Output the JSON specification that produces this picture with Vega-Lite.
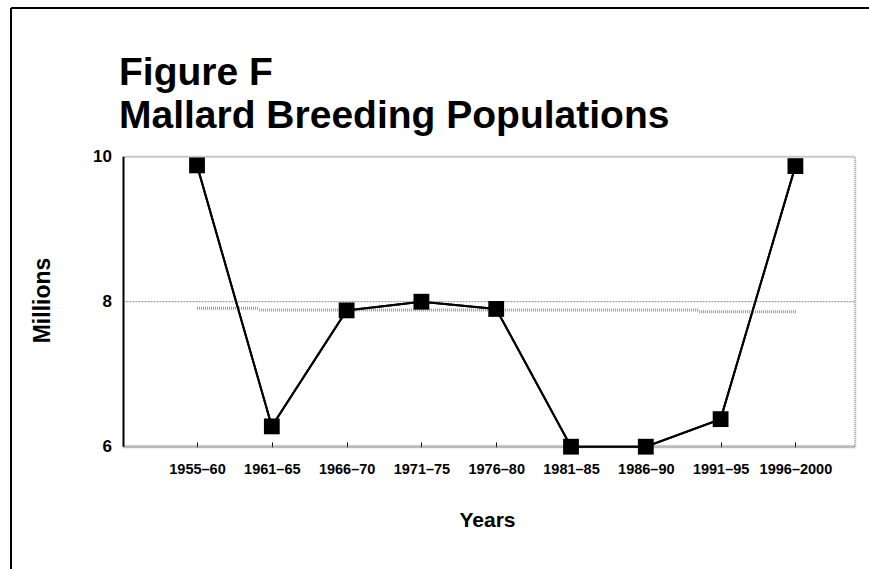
{
  "$schema": "https://vega.github.io/schema/vega-lite/v6.json",
  "width": 858,
  "height": 561,
  "autosize": {"type": "none"},
  "padding": {"left": 11, "top": 8, "right": 0, "bottom": 0},
  "background": "white",
  "config": {"view": {"stroke": null}, "font": "Liberation Sans"},
  "title": {
    "text": ["Figure F", "Mallard Breeding Populations"],
    "anchor": "start",
    "frame": "group",
    "dx": 108,
    "offset": -168,
    "fontSize": 39,
    "font": "Liberation Sans",
    "fontWeight": "bold",
    "lineHeight": 43,
    "color": "black",
    "baseline": "bottom"
  },
  "datasets": {
    "pop": [
      {"period": "1955–60", "i": 1, "value": 9.88},
      {"period": "1961–65", "i": 2, "value": 6.28},
      {"period": "1966–70", "i": 3, "value": 7.88},
      {"period": "1971–75", "i": 4, "value": 8.0},
      {"period": "1976–80", "i": 5, "value": 7.9},
      {"period": "1981–85", "i": 6, "value": 6.0},
      {"period": "1986–90", "i": 7, "value": 6.0},
      {"period": "1991–95", "i": 8, "value": 6.38},
      {"period": "1996–2000", "i": 9, "value": 9.87}
    ],
    "avg": [
      {"from": 1, "to": 1.83, "value": 7.91},
      {"from": 1.83, "to": 7.71, "value": 7.885},
      {"from": 7.71, "to": 9.01, "value": 7.86}
    ]
  },
  "layer": [
    {
      "data": {"name": "pop"},
      "mark": {"type": "line", "color": "black", "strokeWidth": 2},
      "encoding": {
        "x": {
          "field": "i",
          "type": "quantitative",
          "scale": {"domain": [-1.487, 9.984], "nice": false, "zero": false},
          "axis": {
            "values": [1, 2, 3, 4, 5, 6, 7, 8, 9],
            "labelExpr": "['1955–60','1961–65','1966–70','1971–75','1976–80','1981–85','1986–90','1991–95','1996–2000'][datum.value-1]",
            "domain": false,
            "grid": false,
            "ticks": true,
            "tickSize": -5,
            "tickColor": "black",
            "tickWidth": 1,
            "offset": -122,
            "labelPadding": 20,
            "labelFont": "Liberation Sans",
            "labelFontWeight": "bold",
            "labelFontSize": 14.5,
            "labelColor": "black",
            "labelOverlap": false,
            "labelBound": false,
            "labelFlush": false,
            "title": "Years",
            "titleFont": "Liberation Sans",
            "titleFontSize": 21,
            "titleFontWeight": "bold",
            "titleColor": "black",
            "titleX": 476,
            "titleY": 73,
            "titleAnchor": null,
            "titleAlign": "center",
            "titleBaseline": "middle"
          }
        },
        "y": {
          "field": "value",
          "type": "quantitative",
          "scale": {"domain": [4.313, 12.051], "nice": false, "zero": false},
          "axis": {
            "values": [6, 8, 10],
            "format": "d",
            "domain": false,
            "grid": false,
            "ticks": false,
            "offset": -112.5,
            "labelPadding": 12,
            "labelFont": "Liberation Sans",
            "labelFontWeight": "bold",
            "labelFontSize": 17,
            "labelColor": "black",
            "labelBound": false,
            "labelFlush": false,
            "title": "Millions",
            "titleFont": "Liberation Sans",
            "titleFontSize": 23,
            "titleFontWeight": "bold",
            "titleColor": "black",
            "titleX": -81.5,
            "titleY": 292,
            "titleAngle": 270,
            "titleAlign": "center",
            "titleBaseline": "middle"
          }
        }
      }
    },
    {
      "data": {"values": [{}]},
      "mark": {"type": "rule", "color": "black", "strokeWidth": 2},
      "encoding": {
        "x": {"datum": -1.487, "type": "quantitative"},
        "x2": {"datum": 9.984},
        "y": {"datum": 12.051, "type": "quantitative"}
      }
    },
    {
      "data": {"values": [{}]},
      "mark": {"type": "rule", "color": "black", "strokeWidth": 2},
      "encoding": {
        "x": {"datum": -1.487, "type": "quantitative"},
        "y": {"datum": 12.051, "type": "quantitative"},
        "y2": {"datum": 4.313}
      }
    },
    {
      "data": {"values": [{}]},
      "mark": {"type": "rule", "color": "#c8c8c8", "strokeWidth": 2},
      "encoding": {
        "x": {"datum": 0.017, "type": "quantitative"},
        "x2": {"datum": 9.8},
        "y": {"datum": 10, "type": "quantitative"}
      }
    },
    {
      "data": {"values": [{}]},
      "mark": {"type": "rule", "color": "#888888", "strokeWidth": 1, "strokeDash": [2, 1]},
      "encoding": {
        "x": {"datum": 0.017, "type": "quantitative"},
        "x2": {"datum": 9.8},
        "y": {"datum": 8, "type": "quantitative"}
      }
    },
    {
      "data": {"values": [{}]},
      "mark": {"type": "rule", "color": "#999999", "strokeWidth": 2, "strokeDash": [1, 1]},
      "encoding": {
        "x": {"datum": 9.8, "type": "quantitative"},
        "y": {"datum": 6, "type": "quantitative"},
        "y2": {"datum": 10}
      }
    },
    {
      "data": {"values": [{}]},
      "mark": {"type": "rule", "color": "#777777", "strokeWidth": 3, "strokeDash": [1, 1]},
      "encoding": {
        "x": {"datum": 0.017, "type": "quantitative"},
        "x2": {"datum": 9.8},
        "y": {"datum": 6, "type": "quantitative"}
      }
    },
    {
      "data": {"values": [{}]},
      "mark": {"type": "rule", "color": "black", "strokeWidth": 2},
      "encoding": {
        "x": {"datum": 0.017, "type": "quantitative"},
        "y": {"datum": 6, "type": "quantitative"},
        "y2": {"datum": 10}
      }
    },
    {
      "data": {"name": "avg"},
      "mark": {"type": "rule", "color": "#9a9a9a", "strokeWidth": 3, "strokeDash": [1, 1]},
      "encoding": {
        "x": {"field": "from", "type": "quantitative"},
        "x2": {"field": "to"},
        "y": {"field": "value", "type": "quantitative"}
      }
    },
    {
      "data": {"name": "pop"},
      "mark": {"type": "line", "color": "black", "strokeWidth": 2},
      "encoding": {
        "x": {"field": "i", "type": "quantitative"},
        "y": {"field": "value", "type": "quantitative"}
      }
    },
    {
      "data": {"name": "pop"},
      "mark": {"type": "point", "shape": "square", "filled": true, "color": "black", "opacity": 1, "size": 250},
      "encoding": {
        "x": {"field": "i", "type": "quantitative"},
        "y": {"field": "value", "type": "quantitative"}
      }
    }
  ]
}
